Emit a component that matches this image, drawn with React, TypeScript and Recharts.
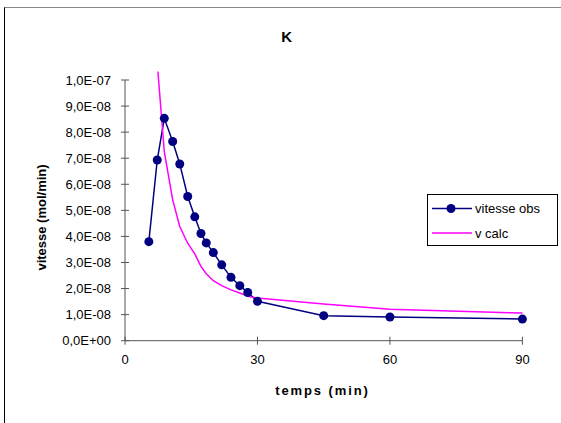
import React from "react";
import {
  LineChart, Line, XAxis, YAxis, Legend, Label, ReferenceLine,
} from "recharts";

// temps (min)
const tempsMin = [5.4, 7.3, 8.9, 10.8, 12.4, 14.2, 15.8, 17.2, 18.4, 20, 21.9, 24, 26, 27.8, 30, 45, 60, 90];
// vitesse observée (mol/min)
const vitesseObs = [3.8e-8, 6.93e-8, 8.53e-8, 7.64e-8, 6.78e-8, 5.53e-8, 4.75e-8, 4.11e-8, 3.75e-8, 3.38e-8, 2.91e-8, 2.43e-8, 2.11e-8, 1.85e-8, 1.51e-8, 0.96e-8, 0.91e-8, 0.83e-8];
// vitesse calculée (mol/min)
const vCalc = [null, 1.065e-7, 7.25e-8, 5.4e-8, 4.38e-8, 3.74e-8, 3.33e-8, 2.85e-8, 2.57e-8, 2.3e-8, 2.11e-8, 1.95e-8, 1.83e-8, 1.7e-8, 1.64e-8, 1.41e-8, 1.21e-8, 1.06e-8];

const xTicks = [0, 30, 60, 90];
const yTicks = [0, 1e-8, 2e-8, 3e-8, 4e-8, 5e-8, 6e-8, 7e-8, 8e-8, 9e-8, 1e-7];

const OBS = "#000080";
const CALC = "#FF00FF";
const AXIS = "#555";
const FONT = '"Liberation Sans", Arial, sans-serif';

const data = tempsMin.map((t, i) => ({ t, obs: vitesseObs[i], calc: vCalc[i] }));

// Excel-style scientific label: 1,0E-07
function sci(v: number) {
  if (v === 0) return "0,0E+00";
  let e = Math.floor(Math.log10(v) + 1e-9);
  let m = v / Math.pow(10, e);
  if (m >= 9.95) { m /= 10; e += 1; }
  const sign = e < 0 ? "-" : "+";
  const ae = Math.abs(e);
  return `${m.toFixed(1).replace(".", ",")}E${sign}${ae < 10 ? "0" : ""}${ae}`;
}

// ticks cross the axis like Excel's "cross" tick marks
function YTick(props: any) {
  const { x, y, payload } = props;
  return (
    <g>
      <line x1={x + 10} x2={x + 18} y1={y} y2={y} stroke={AXIS} />
      <text x={x} y={y} dy="0.355em" textAnchor="end" fontSize={13} fontFamily={FONT} fill="#000">
        {sci(payload.value)}
      </text>
    </g>
  );
}

function XTick(props: any) {
  const { x, y, payload } = props;
  return (
    <g>
      <line x1={x} x2={x} y1={y - 18} y2={y - 10} stroke={AXIS} />
      <text x={x} y={y} dy="0.71em" textAnchor="middle" fontSize={13} fontFamily={FONT} fill="#000">
        {payload.value}
      </text>
    </g>
  );
}

function LegendBox() {
  return (
    <div style={{
      width: 131, height: 52, boxSizing: "border-box", border: "1px solid #000",
      background: "#fff", fontFamily: FONT, fontSize: 13, color: "#000",
    }}>
      <svg width={129} height={50} style={{ display: "block" }}>
        <line x1={4} x2={44} y1={13.5} y2={13.5} stroke={OBS} strokeWidth={1.5} />
        <circle cx={23} cy={13.5} r={4.5} fill={OBS} />
        <text x={47} y={13.5} dy="0.35em" fontSize={13} fontFamily={FONT}>vitesse obs</text>
        <line x1={4} x2={44} y1={38} y2={38} stroke={CALC} strokeWidth={1.5} />
        <text x={47} y={38} dy="0.35em" fontSize={13} fontFamily={FONT}>v calc</text>
      </svg>
    </div>
  );
}

export default function App() {
  return (
    <div style={{ position: "absolute", left: 0, top: 0, width: 561, height: 423, overflow: "hidden", background: "#fff" }}>
      <div style={{
        position: "absolute", left: 4, top: 7, width: 620, height: 480,
        borderLeft: "1px solid #000", borderTop: "1px solid #888",
      }} />
      <div style={{ position: "absolute", left: 0, top: 0 }}>
        <LineChart
          width={561}
          height={423}
          data={data}
          margin={{ top: 71.4, right: 38.6, bottom: 52.3, left: 0 }}
        >
          <XAxis
            dataKey="t"
            type="number"
            domain={[0, 90]}
            ticks={xTicks}
            height={30}
            stroke={AXIS}
            tickLine={false}
            tickSize={4}
            tickMargin={10}
            tick={<XTick />}
          >
            <Label
              content={() => (
                <text x={322.5} y={390} dy="0.35em" textAnchor="middle"
                  fontFamily={FONT} fontSize={13} fontWeight={700} letterSpacing={1.9} fill="#000">
                  temps (min)
                </text>
              )}
            />
          </XAxis>
          <YAxis
            type="number"
            domain={[0, 1.033e-7]}
            allowDataOverflow
            ticks={yTicks}
            width={125}
            axisLine={false}
            tickLine={false}
            tickSize={4}
            tickMargin={10}
            tick={<YTick />}
          >
            <Label
              content={() => (
                <text x={41} y={217.5} dy="0.35em" textAnchor="middle" transform="rotate(-90 41 217.5)"
                  fontFamily={FONT} fontSize={13} fontWeight={700} fill="#000">
                  vitesse (mol/min)
                </text>
              )}
            />
            <Label
              content={() => (
                <text x={286.7} y={36.7} dy="0.35em" textAnchor="middle"
                  fontFamily={FONT} fontSize={15} fontWeight={700} fill="#000">
                  K
                </text>
              )}
            />
          </YAxis>
          <ReferenceLine segment={[{ x: 0, y: 0 }, { x: 0, y: 1e-7 }]} stroke={AXIS} strokeWidth={1} />
          <Legend
            layout="vertical"
            align="center"
            verticalAlign="middle"
            content={() => <LegendBox />}
            wrapperStyle={{ position: "absolute", left: 427, top: 194, width: 131, height: 52 }}
          />
          <Line
            dataKey="obs"
            name="vitesse obs"
            stroke={OBS}
            strokeWidth={1.5}
            dot={{ r: 4.5, fill: OBS, stroke: OBS, strokeWidth: 0 }}
            activeDot={false}
            isAnimationActive={false}
          />
          <Line
            dataKey="calc"
            name="v calc"
            stroke={CALC}
            strokeWidth={1.5}
            dot={false}
            activeDot={false}
            connectNulls
            isAnimationActive={false}
          />
        </LineChart>
      </div>
    </div>
  );
}
